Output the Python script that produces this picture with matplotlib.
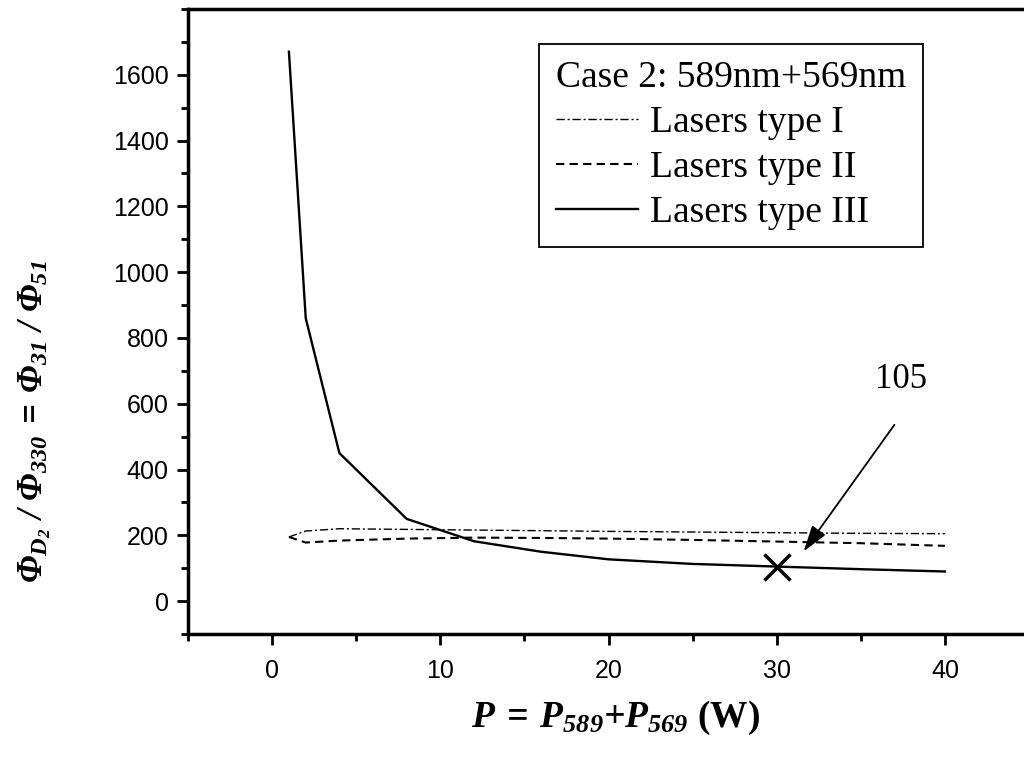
import numpy as np
import matplotlib
matplotlib.use('Agg')
import matplotlib.pyplot as plt

# values
power = [1, 2, 4, 8, 12, 16, 20, 25, 30, 35, 40]
type1 = [195, 213, 220, 218, 216, 214, 212, 210, 208, 206, 205]
type2 = [195, 178, 184, 190, 193, 192, 190, 186, 181, 176, 168]
type3 = [1670, 860, 450, 250, 182, 150, 127, 113, 105, 97, 90]
mark_x, mark_y = 30, 105
mark_text = '105'

plt.rcParams['mathtext.fontset'] = 'custom'
plt.rcParams['mathtext.rm'] = 'Liberation Serif:bold:italic'
plt.rcParams['mathtext.it'] = 'Liberation Serif:bold:italic'
plt.rcParams['mathtext.bf'] = 'Liberation Serif:bold:italic'

fig = plt.figure(figsize=(10.24, 7.57), dpi=100)
ax = fig.add_axes([188/1024, 1 - 634/757, 841/1024, 625/757])

ax.plot(power, type1, color='black', lw=1.0, dashes=[6, 2, 1.5, 2], label='Lasers type I')
ax.plot(power, type2, color='black', lw=1.5, dashes=[4, 2.5], label='Lasers type II')
ax.plot(power, type3, color='black', lw=1.7, label='Lasers type III')
ax.plot([mark_x], [mark_y], marker='x', color='black', ms=19, mew=2.5, ls='none')

# arrow and its label
ax.annotate('', xy=(31.6, 151), xytext=(37.0, 536),
            arrowprops=dict(arrowstyle='-|>,head_width=0.25,head_length=0.8', color='black',
                            lw=1.3, mutation_scale=20, shrinkA=0, shrinkB=0))
ax.text(37.4, 673, mark_text, ha='center', va='center', fontsize=25, family='Liberation Serif')

ax.set_xlim(-5, 45)
ax.set_ylim(-100, 1800)
ax.set_xticks([0, 10, 20, 30, 40])
ax.set_xticks([-5, 5, 15, 25, 35, 45], minor=True)
ax.set_yticks(np.arange(0, 1601, 200))
ax.set_yticks(np.arange(-100, 1801, 100), minor=True)
ax.tick_params(which='major', direction='out', length=8, width=2, labelsize=18)
ax.tick_params(axis='x', which='major', pad=10)
ax.tick_params(axis='y', which='major', pad=6)
ax.tick_params(which='minor', direction='out', length=5, width=2)
for lab in ax.get_xticklabels() + ax.get_yticklabels():
    lab.set_family('Liberation Sans')
for s in ax.spines.values():
    s.set_linewidth(2.5)

leg = ax.legend(title='Case 2: 589nm+569nm', loc='upper right', bbox_to_anchor=(0.874, 0.944),
                borderaxespad=0, fancybox=False, edgecolor='black', framealpha=1,
                handlelength=2.2, handletextpad=0.3, borderpad=0.45, labelspacing=0.28,
                alignment='left', prop={'family': 'Liberation Serif', 'size': 27},
                title_fontproperties={'family': 'Liberation Serif', 'size': 27})
leg.get_frame().set_linewidth(1.3)

fig.text(615/1024, 1 - 718/757, r'$P\:=\:P_{589}{+}P_{569}$ (W)', ha='center', va='center',
         fontsize=27, family='Liberation Serif', weight='bold')
fig.text(35/1024, 1 - 422/757, r'$Φ_{D_2}\ /\ Φ_{330}\:=\:Φ_{31}\ /\ Φ_{51}$', rotation=90,
         ha='center', va='center', fontsize=25, family='Liberation Serif')

plt.savefig('out.png', dpi=100)
